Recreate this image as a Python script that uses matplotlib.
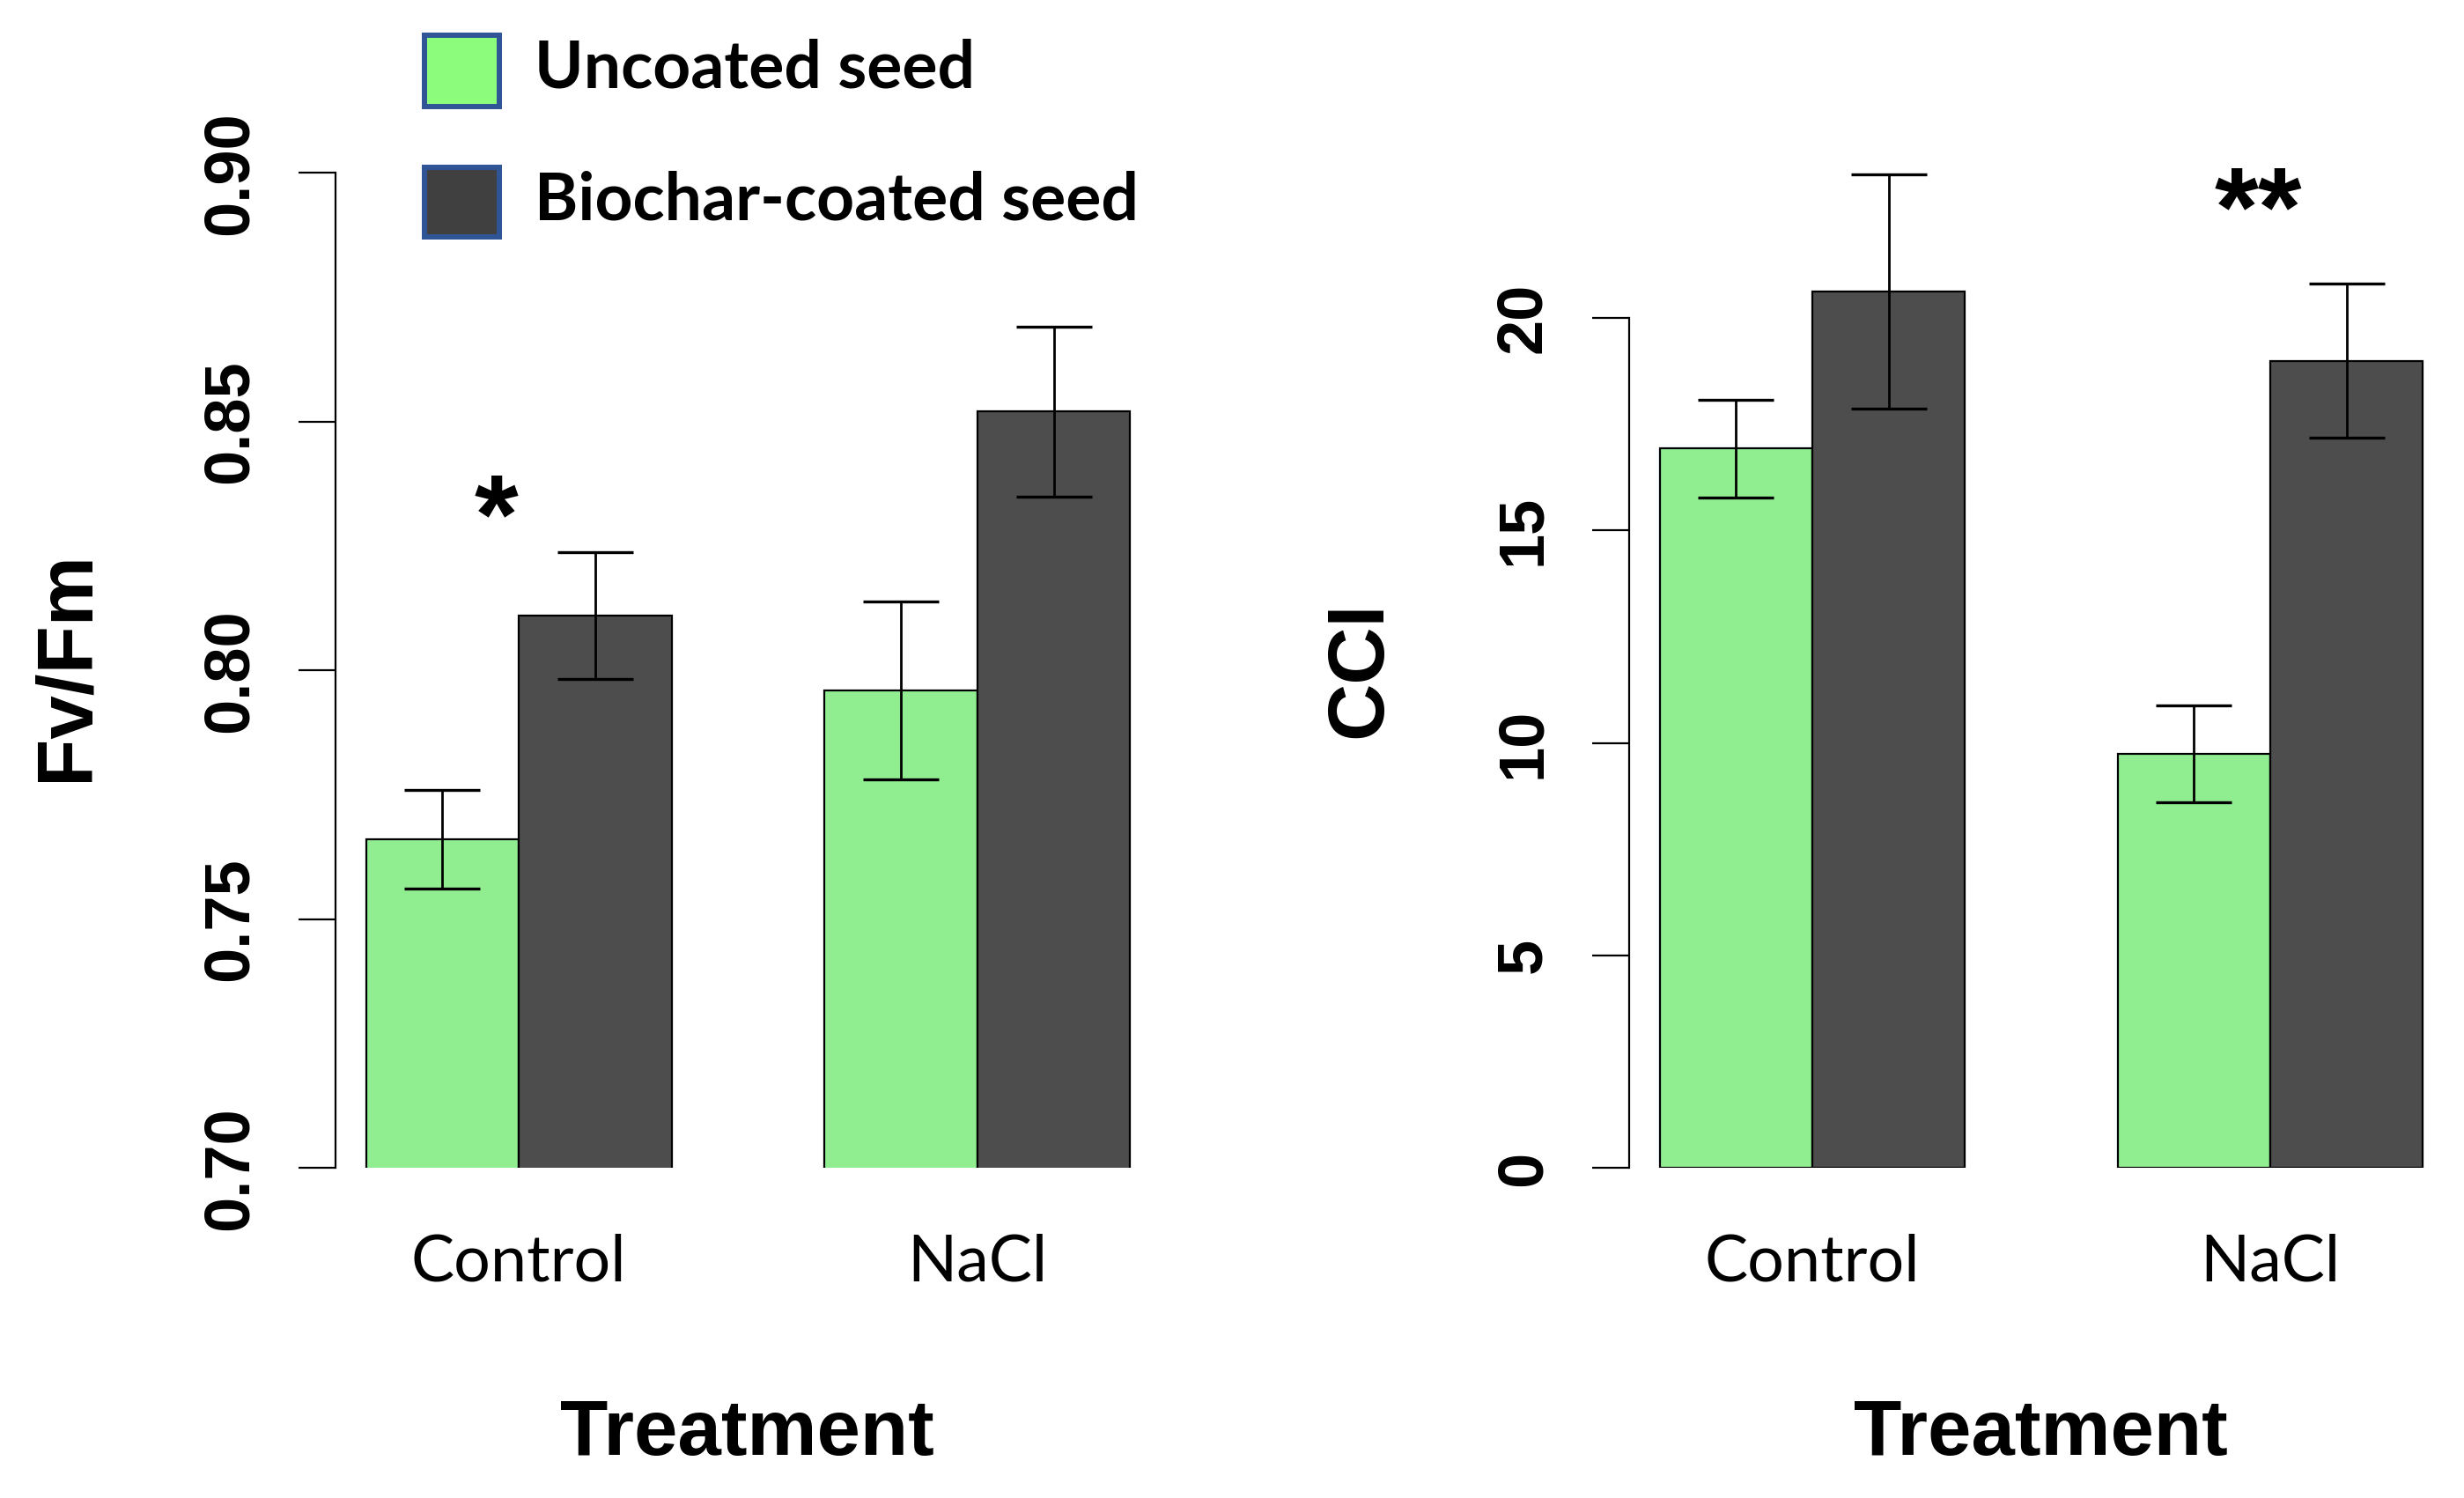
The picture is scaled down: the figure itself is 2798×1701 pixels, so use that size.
import numpy as np
import matplotlib
matplotlib.use("Agg")
import matplotlib.pyplot as plt
from matplotlib.patches import Rectangle

# ---------------- data ----------------
treatments = ["Control", "NaCl"]
series_names = ["Uncoated seed", "Biochar-coated seed"]

fvfm_uncoated = [0.766, 0.796]
fvfm_biochar = [0.811, 0.852]
fvfm_uncoated_se = [0.0099, 0.0179]
fvfm_biochar_se = [0.0128, 0.0170]

cci_uncoated = [16.93, 9.74]
cci_biochar = [20.62, 18.99]
cci_uncoated_se = [1.15, 1.14]
cci_biochar_se = [2.76, 1.82]

fvfm_ticks = [0.70, 0.75, 0.80, 0.85, 0.90]
fvfm_ticklabels = ["0.70", "0.75", "0.80", "0.85", "0.90"]
cci_ticks = [0, 5, 10, 15, 20]
cci_ticklabels = ["0", "5", "10", "15", "20"]

fvfm_signif = ["*", ""]
fvfm_signif_y = [0.8296, None]
cci_signif = ["", "**"]
cci_signif_y = [None, 22.4]

# ---------------- style ----------------
W, H = 2798, 1701
C_UNC = "#90EE90"
C_BIO = "#4D4D4D"
LEG_UNC = "#8CFC7C"
LEG_BIO = "#404040"
LEG_EDGE = "#2F5597"
SANS = "Liberation Sans"
CAT = "Lato"


def fx(px):
    return px / W


def fy(py):
    return 1 - py / H


fig = plt.figure(figsize=(W / 100, H / 100), dpi=100)

ax_top, ax_bot = 196.2, 1326.4
axL = fig.add_axes([fx(381), fy(ax_bot), fx(1318 - 381), (ax_bot - ax_top) / H])
axR = fig.add_axes([fx(1850), fy(ax_bot), fx(2786 - 1850), (ax_bot - ax_top) / H])


def panel(ax, unc, bio, unc_se, bio_se, ylim, ticks, ticklabels, sig, sig_y, sig_dx):
    x = np.arange(len(treatments)) * 3 + 2.0
    ax.bar(x - 0.5, unc, width=1.0, color=C_UNC, edgecolor="black", linewidth=1.6, zorder=2)
    ax.bar(x + 0.5, bio, width=1.0, color=C_BIO, edgecolor="black", linewidth=1.6, zorder=2)
    for xs, vals, se in ((x - 0.5, unc, unc_se), (x + 0.5, bio, bio_se)):
        ax.errorbar(xs, vals, yerr=se, fmt="none", ecolor="black", elinewidth=2.0,
                    capsize=31.3, capthick=2.4, zorder=3, clip_on=False)
    for xi, s, sy in zip(x, sig, sig_y):
        if s:
            ax.text(xi + sig_dx, sy, s, ha="center", va="center", fontsize=92,
                    fontweight="bold", family=SANS)
    ax.set_xlim(0.8, 6.2)
    ax.set_ylim(*ylim)
    for side in ("top", "right", "bottom"):
        ax.spines[side].set_visible(False)
    ax.spines["left"].set_bounds(ticks[0], ticks[-1])
    ax.spines["left"].set_linewidth(1.6)
    ax.set_yticks(ticks, labels=ticklabels)
    ax.tick_params(axis="y", length=30.6, width=1.6, pad=42, direction="out")
    for lab in ax.get_yticklabels():
        lab.set_rotation(90)
        lab.set_rotation_mode("anchor")
        lab.set_ha("center")
        lab.set_va("baseline")
        lab.set_fontsize(52)
        lab.set_family(SANS)
        lab.set_fontweight("bold")
    ax.set_xticks(x, labels=treatments)
    ax.tick_params(axis="x", length=0, pad=91.9)
    for lab in ax.get_xticklabels():
        lab.set_va("baseline")
        lab.set_fontsize(53)
        lab.set_family(CAT)


panel(axL, fvfm_uncoated, fvfm_biochar, fvfm_uncoated_se, fvfm_biochar_se,
      (0.70, 0.90), fvfm_ticks, fvfm_ticklabels, fvfm_signif, fvfm_signif_y, -0.15)
panel(axR, cci_uncoated, cci_biochar, cci_uncoated_se, cci_biochar_se,
      (0, 23.41), cci_ticks, cci_ticklabels, cci_signif, cci_signif_y, -0.08)

# axis titles
fig.text(fx(848), fy(1652), "Treatment", ha="center", va="baseline",
         fontsize=64, fontweight="bold", family=SANS)
fig.text(fx(2317), fy(1652), "Treatment", ha="center", va="baseline",
         fontsize=64, fontweight="bold", family=SANS)
fig.text(fx(100), fy(756), "Fv/Fm", rotation=90, rotation_mode="anchor",
         ha="center", va="baseline", fontsize=64, fontweight="bold", family=SANS)
fig.text(fx(1568), fy(760), "CCI", rotation=90, rotation_mode="anchor",
         ha="center", va="baseline", fontsize=65, fontweight="bold", family=SANS)

# legend
for (y0, y1), fc, name, base in (((40, 121), LEG_UNC, series_names[0], 100),
                                 ((190, 269), LEG_BIO, series_names[1], 250)):
    fig.patches.append(Rectangle((fx(482), fy(y1)), fx(85), (y1 - y0) / H,
                                 transform=fig.transFigure, facecolor=fc,
                                 edgecolor=LEG_EDGE, linewidth=4.3))
    fig.text(fx(607), fy(base), name, ha="left", va="baseline", fontsize=54,
             fontweight="bold", family=CAT)

fig.savefig("out.png", dpi=100)
